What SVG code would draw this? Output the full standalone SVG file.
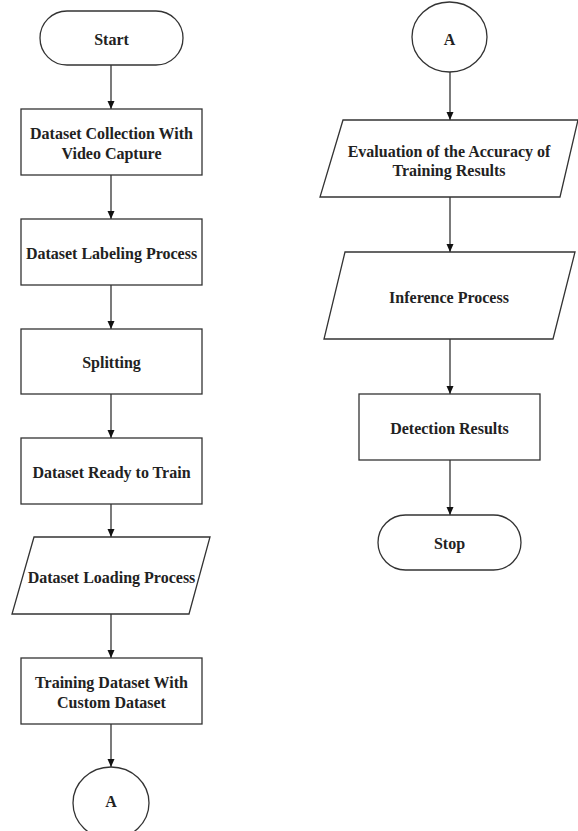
<svg xmlns="http://www.w3.org/2000/svg" width="578" height="831" viewBox="0 0 578 831">
<style>
.n{fill:#fff;stroke:#333;stroke-width:1.3}
.t{font-family:"Liberation Serif","Times New Roman",serif;font-weight:bold;font-size:16px;fill:#222;text-anchor:middle}
.c{stroke:#333;stroke-width:1.3;fill:none;marker-end:url(#ah)}
</style>
<defs>
<marker id="ah" markerUnits="userSpaceOnUse" markerWidth="8" markerHeight="8" refX="8" refY="3.5" orient="auto">
<path d="M0,0 L8,3.5 L0,7 z" fill="#111"/>
</marker>
</defs>
<rect width="578" height="831" fill="#fff"/>
<g id="connectors">
<line class="c" x1="111" y1="65" x2="111" y2="109"/>
<line class="c" x1="111" y1="175" x2="111" y2="219"/>
<line class="c" x1="111" y1="285" x2="111" y2="329"/>
<line class="c" x1="111" y1="394" x2="111" y2="438"/>
<line class="c" x1="111" y1="504" x2="111" y2="537"/>
<line class="c" x1="111" y1="614" x2="111" y2="658"/>
<line class="c" x1="111" y1="724" x2="111" y2="767"/>
<line class="c" x1="450" y1="72" x2="450" y2="120"/>
<line class="c" x1="450" y1="197" x2="450" y2="252"/>
<line class="c" x1="450" y1="339" x2="450" y2="394"/>
<line class="c" x1="450" y1="460" x2="450" y2="515"/>
</g>
<g id="start">
<rect class="n" x="40" y="11" width="143" height="54" rx="27" ry="27"/>
<text class="t" x="111.5" y="45">Start</text>
</g>
<g id="collection">
<rect class="n" x="21" y="109" width="181" height="66"/>
<text class="t" x="111.5" y="139">Dataset Collection With</text>
<text class="t" x="111.5" y="159">Video Capture</text>
</g>
<g id="labeling">
<rect class="n" x="21" y="219" width="181" height="66"/>
<text class="t" x="111.5" y="259">Dataset Labeling Process</text>
</g>
<g id="splitting">
<rect class="n" x="21" y="329" width="181" height="65"/>
<text class="t" x="111.5" y="368">Splitting</text>
</g>
<g id="ready">
<rect class="n" x="21" y="438" width="181" height="66"/>
<text class="t" x="111.5" y="478">Dataset Ready to Train</text>
</g>
<g id="loading">
<polygon class="n" points="34,537 210,537 189,614 12,614"/>
<text class="t" x="111.5" y="583">Dataset Loading Process</text>
</g>
<g id="training">
<rect class="n" x="21" y="658" width="181" height="66"/>
<text class="t" x="111.5" y="688">Training Dataset With</text>
<text class="t" x="111.5" y="708">Custom Dataset</text>
</g>
<g id="connectorA1">
<ellipse class="n" cx="111" cy="803" rx="38" ry="36"/>
<text class="t" x="111" y="807">A</text>
</g>
<g id="connectorA2">
<ellipse class="n" cx="449.5" cy="37" rx="37.5" ry="35"/>
<text class="t" x="449.5" y="45">A</text>
</g>
<g id="evaluation">
<polygon class="n" points="343,120 578,120 560,197 320,197"/>
<text class="t" x="449" y="157">Evaluation of the Accuracy of</text>
<text class="t" x="449" y="176">Training Results</text>
</g>
<g id="inference">
<polygon class="n" points="345,252 575,252 553,339 324,339"/>
<text class="t" x="449" y="303">Inference Process</text>
</g>
<g id="detection">
<rect class="n" x="359" y="394" width="181" height="66"/>
<text class="t" x="449.5" y="434">Detection Results</text>
</g>
<g id="stop">
<rect class="n" x="378" y="515" width="143" height="55" rx="27.5" ry="27.5"/>
<text class="t" x="449.5" y="549">Stop</text>
</g>
</svg>
